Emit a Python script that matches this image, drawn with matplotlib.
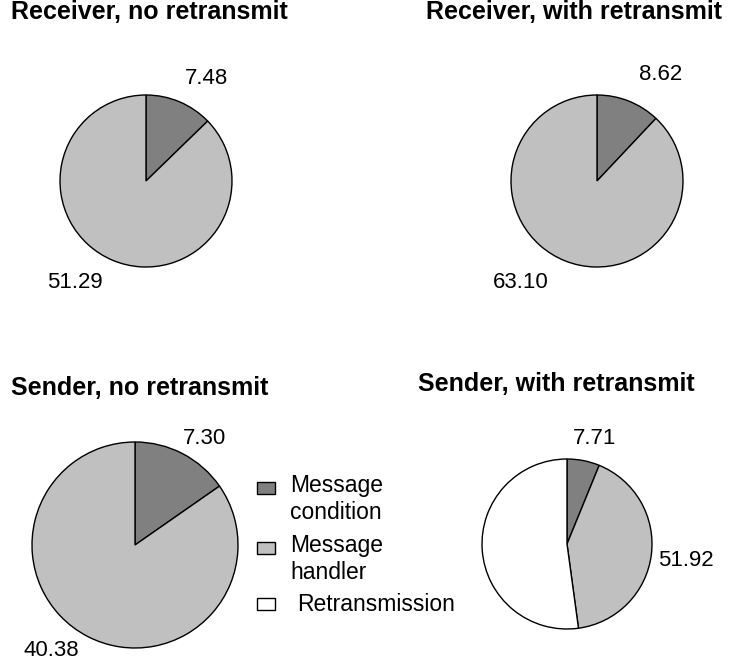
import matplotlib
matplotlib.use("Agg")
import matplotlib.pyplot as plt
from matplotlib.patches import Rectangle

plt.rcParams['font.family'] = ['Liberation Sans', 'DejaVu Sans']

categories = ["Message\ncondition", "Message\nhandler", "Retransmission"]
colors = ["#808080", "#c0c0c0", "#ffffff"]

titles = ["Receiver, no retransmit", "Receiver, with retransmit",
          "Sender, no retransmit", "Sender, with retransmit"]
recv_no = [7.48, 51.29]
recv_with = [8.62, 63.10]
send_no = [7.30, 40.38]
send_with = [7.71, 51.92, 65.0]
labels_shown = [["7.48", "51.29"], ["8.62", "63.10"], ["7.30", "40.38"], ["7.71", "51.92"]]
series = [recv_no, recv_with, send_no, send_with]

W, H = 730, 665
fig = plt.figure(figsize=(W / 100, H / 100), dpi=100)
ax = fig.add_axes([0, 0, 1, 1])


def Y(y):
    # convert image-style (top-down) pixel y to data y
    return H - y


# layout (pixels, top-down): pie centers, radii, title positions, label positions
centers = [(146, 181), (597, 181), (135, 545), (567, 544)]
radii = [86, 86, 103, 85]
title_pos = [(11, 12), (426, 12), (11, 388), (418, 384)]
label_pos = [[(207, 79), (75, 283)], [(661, 75), (521, 283)],
             [(205, 438), (51, 650)], [(595, 439), (686, 560)]]

for vals, c, r, t, tp, lbls, lp in zip(series, centers, radii, titles, title_pos,
                                       labels_shown, label_pos):
    ax.pie(vals, colors=colors[:len(vals)], startangle=90,
           counterclock=False, center=(c[0], Y(c[1])), radius=r,
           wedgeprops=dict(edgecolor='black', linewidth=1.0))
    ax.text(tp[0], Y(tp[1]), t, fontsize=18, fontweight='bold', ha='left', va='center')
    for s, p in zip(lbls, lp):
        ax.text(p[0], Y(p[1]), s, fontsize=16, ha='center', va='center')

# legend (manual so that handles align with the first text line)
leg_sq = [(257, 482), (257, 542), (257, 598)]
leg_txt = [(290, 485), (290, 545), (297, 604)]
for col, lab, sq, tx in zip(colors, categories, leg_sq, leg_txt):
    ax.add_patch(Rectangle((sq[0], Y(sq[1]) - 11.5), 18, 11.5, facecolor=col,
                           edgecolor='black', linewidth=1.0))
    ax.text(tx[0], Y(tx[1] - 11), lab, fontsize=16.5, ha='left', va='top',
            linespacing=1.2)

ax.set_xlim(0, W)
ax.set_ylim(0, H)
ax.set_aspect('equal')
ax.axis('off')

fig.savefig("out.png", dpi=100)
